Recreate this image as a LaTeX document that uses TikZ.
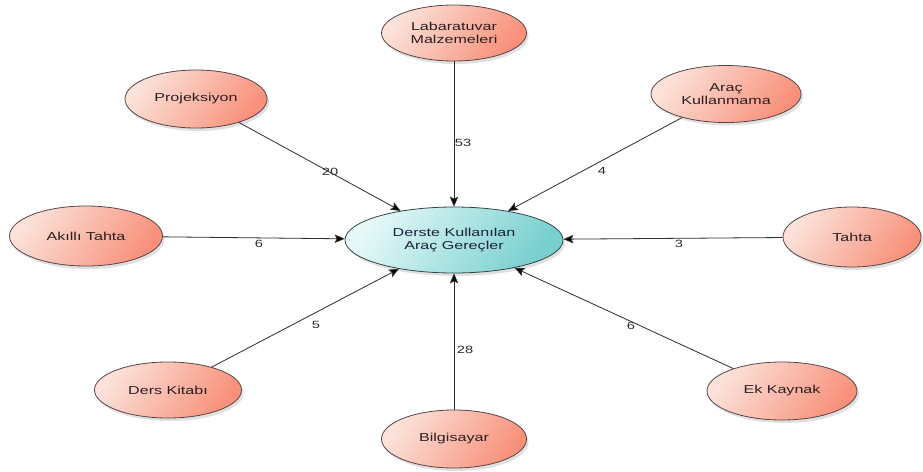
\documentclass[tikz,border=0pt]{standalone}
\usepackage{fontspec}
\setmainfont{Liberation Sans}
\newfontfamily\nodefont[FakeStretch=1.4]{Liberation Sans}
\usetikzlibrary{arrows.meta,shapes.geometric,shadows}

\definecolor{pinklight}{HTML}{FCE2DA}
\definecolor{pinkmid}{HTML}{FBC3B4}
\definecolor{pinkdark}{HTML}{F8907A}
\definecolor{pinkedge}{HTML}{5A4446}
\definecolor{pinktext}{HTML}{2A1F21}
\definecolor{cyanlight}{HTML}{E6F8F8}
\definecolor{cyanmid}{HTML}{BDECEC}
\definecolor{cyandark}{HTML}{78CFCF}
\definecolor{cyanedge}{HTML}{34474A}
\definecolor{cyantext}{HTML}{18233A}
\definecolor{linkgray}{HTML}{2E2E2E}

\tikzset{
  topic/.style={ellipse, draw=pinkedge, line width=0.8pt,
    top color=pinklight, middle color=pinkmid, bottom color=pinkdark, shading angle=55,
    text=pinktext, inner sep=0pt, align=center,
    font=\nodefont\fontsize{11.5}{12.5}\selectfont,
    drop shadow={shadow xshift=2pt, shadow yshift=-3pt, opacity=0.12, fill=black}},
  hub/.style={ellipse, draw=cyanedge, line width=0.8pt,
    top color=cyanlight, middle color=cyanmid, bottom color=cyandark, shading angle=55,
    text=cyantext, inner sep=0pt, align=center,
    minimum width=218pt, minimum height=66pt,
    font=\nodefont\fontsize{11.5}{12.5}\selectfont,
    drop shadow={shadow xshift=2pt, shadow yshift=-3pt, opacity=0.12, fill=black}},
  link/.style={draw=linkgray, line width=0.8pt,
    -{Stealth[length=10pt,width=8.5pt,inset=2pt,fill=black]}},
  count/.style={text=linkgray, inner sep=0pt,
    font=\nodefont\fontsize{10.5}{12}\selectfont}
}

\begin{document}
\begin{tikzpicture}[x=1pt,y=-1pt]
  \fill[white] (0,0) rectangle (923,471);
  \useasboundingbox (0,0) rectangle (923,471);

  % central concept
  \node[hub] (hub) at (454,240) {Derste Kullanılan\\Araç Gereçler};

  % surrounding items
  \node[topic, minimum width=145pt, minimum height=56pt] (lab)  at (454,33)  {Labaratuvar\\Malzemeleri};
  \node[topic, minimum width=142pt, minimum height=58pt] (proj) at (196,99)  {Projeksiyon};
  \node[topic, minimum width=150pt, minimum height=57pt] (arac) at (726,94)  {Araç\\Kullanmama};
  \node[topic, minimum width=153pt, minimum height=60pt] (akil) at (86,236)  {Akıllı Tahta};
  \node[topic, minimum width=138pt, minimum height=60pt] (tah)  at (852,237) {Tahta};
  \node[topic, minimum width=147pt, minimum height=56pt] (ders) at (168,390) {Ders Kitabı};
  \node[topic, minimum width=145pt, minimum height=58pt] (bil)  at (454,439) {Bilgisayar};
  \node[topic, minimum width=150pt, minimum height=58pt] (ek)   at (782,391) {Ek Kaynak};

  % connectors into the hub
  \draw[link] (lab)  -- (hub);
  \draw[link] (proj) -- (hub);
  \draw[link] (arac) -- (hub);
  \draw[link] (akil) -- (hub);
  \draw[link] (tah)  -- (hub);
  \draw[link] (ders) -- (hub);
  \draw[link] (bil)  -- (hub);
  \draw[link] (ek)   -- (hub);

  % counts
  \node[count] (nlab)  at (463,143) {53};
  \node[count] (nproj) at (330,172) {20};
  \node[count] (narac) at (602,171) {4};
  \node[count] (nakil) at (259,244) {6};
  \node[count] (ntah)  at (679,244) {3};
  \node[count] (nders) at (316,325) {5};
  \node[count] (nbil)  at (465,350) {28};
  \node[count] (nek)   at (631,326) {6};
\end{tikzpicture}
\end{document}
